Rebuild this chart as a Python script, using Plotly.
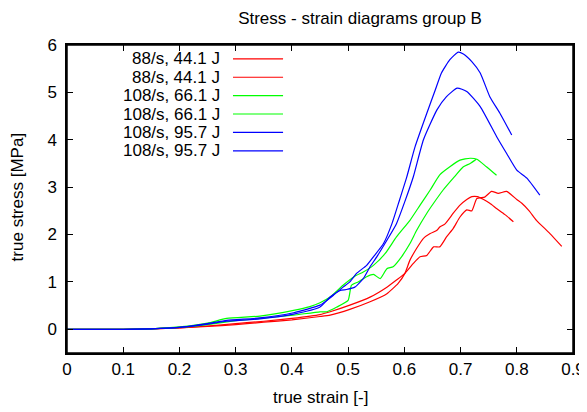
import plotly.graph_objects as go

# ---- data ----
names = ["88/s, 44.1 J", "88/s, 44.1 J", "108/s, 66.1 J", "108/s, 66.1 J",
         "108/s, 95.7 J", "108/s, 95.7 J"]
colors = ["#ff0000", "#ff0000", "#00ff00", "#00ff00", "#0000ff", "#0000ff"]

red_a_x = [0, 0.10, 0.15, 0.20, 0.25, 0.30, 0.35, 0.40, 0.45, 0.468, 0.503, 0.539,
           0.569, 0.589, 0.601, 0.610, 0.622, 0.634, 0.646, 0.658, 0.663, 0.672,
           0.687, 0.699, 0.711, 0.720, 0.730, 0.741, 0.752, 0.764, 0.779, 0.794]
red_a_y = [0, 0, 0.01, 0.03, 0.06, 0.10, 0.15, 0.20, 0.27, 0.30, 0.42, 0.58,
           0.75, 0.97, 1.18, 1.46, 1.71, 1.92, 2.02, 2.09, 2.16, 2.22,
           2.45, 2.62, 2.74, 2.80, 2.80, 2.74, 2.66, 2.55, 2.42, 2.27]

red_b_x = [0, 0.10, 0.15, 0.20, 0.25, 0.30, 0.35, 0.40, 0.45, 0.468, 0.503, 0.539,
           0.569, 0.586, 0.601, 0.616, 0.628, 0.640, 0.652, 0.663, 0.675, 0.687,
           0.699, 0.711, 0.720, 0.729, 0.743, 0.755, 0.767, 0.782, 0.800, 0.809,
           0.822, 0.835, 0.859, 0.880]
red_b_y = [0, 0, 0.01, 0.03, 0.07, 0.12, 0.17, 0.23, 0.31, 0.37, 0.51, 0.68,
           0.89, 1.04, 1.18, 1.39, 1.53, 1.56, 1.74, 1.74, 1.95, 2.13,
           2.37, 2.52, 2.50, 2.76, 2.79, 2.91, 2.87, 2.91, 2.74, 2.66,
           2.50, 2.30, 2.02, 1.75]

green_a_x = [0, 0.10, 0.15, 0.20, 0.25, 0.284, 0.343, 0.403, 0.432, 0.450, 0.468,
             0.491, 0.512, 0.527, 0.545, 0.566, 0.586, 0.610, 0.628, 0.646, 0.663,
             0.681, 0.699, 0.717, 0.729, 0.746, 0.764]
green_a_y = [0, 0, 0.01, 0.05, 0.13, 0.23, 0.28, 0.40, 0.48, 0.56, 0.68,
             0.93, 1.12, 1.21, 1.35, 1.60, 1.95, 2.30, 2.62, 2.94, 3.26,
             3.43, 3.57, 3.61, 3.59, 3.43, 3.25]

green_b_x = [0, 0.10, 0.15, 0.20, 0.25, 0.30, 0.343, 0.403, 0.45, 0.462, 0.480,
             0.500, 0.506, 0.518, 0.533, 0.545, 0.557, 0.569, 0.580, 0.595, 0.610,
             0.622, 0.640, 0.652, 0.669, 0.687, 0.705, 0.717, 0.728]
green_b_y = [0, 0, 0.01, 0.04, 0.10, 0.18, 0.23, 0.30, 0.37, 0.37, 0.47,
             0.61, 0.93, 1.00, 1.11, 1.16, 1.07, 1.28, 1.32, 1.53, 1.81,
             2.09, 2.45, 2.66, 2.94, 3.19, 3.43, 3.50, 3.59]

blue_a_x = [0, 0.10, 0.15, 0.20, 0.25, 0.284, 0.343, 0.403, 0.45, 0.462, 0.474,
            0.491, 0.503, 0.515, 0.533, 0.545, 0.563, 0.578, 0.592, 0.604, 0.619,
            0.640, 0.655, 0.666, 0.681, 0.696, 0.705, 0.720, 0.735, 0.752, 0.770,
            0.791]
blue_a_y = [0, 0, 0.01, 0.04, 0.12, 0.19, 0.24, 0.35, 0.51, 0.61, 0.72,
            0.89, 1.00, 1.18, 1.35, 1.53, 1.81, 2.23, 2.75, 3.20, 3.85,
            4.56, 5.05, 5.41, 5.69, 5.85, 5.81, 5.65, 5.41, 4.91, 4.56,
            4.10]

blue_b_x = [0, 0.10, 0.15, 0.20, 0.25, 0.284, 0.343, 0.403, 0.45, 0.468, 0.486,
            0.497, 0.512, 0.527, 0.539, 0.551, 0.569, 0.586, 0.601, 0.616, 0.634,
            0.658, 0.675, 0.694, 0.711, 0.735, 0.764, 0.782, 0.800, 0.818, 0.841]
blue_b_y = [0, 0, 0.01, 0.04, 0.11, 0.17, 0.22, 0.32, 0.47, 0.68, 0.82,
            0.84, 0.89, 1.07, 1.32, 1.53, 1.88, 2.23, 2.70, 3.22, 4.00,
            4.63, 4.91, 5.09, 5.02, 4.70, 4.07, 3.71, 3.36, 3.19, 2.83]

xs = [red_a_x, red_b_x, green_a_x, green_b_x, blue_a_x, blue_b_x]
ys = [red_a_y, red_b_y, green_a_y, green_b_y, blue_a_y, blue_b_y]

x_ticks = [0, 0.1, 0.2, 0.3, 0.4, 0.5, 0.6, 0.7, 0.8, 0.9]
x_tick_labels = ["0", "0.1", "0.2", "0.3", "0.4", "0.5", "0.6", "0.7", "0.8", "0.9"]
y_ticks = [0, 1, 2, 3, 4, 5, 6]
y_tick_labels = ["0", "1", "2", "3", "4", "5", "6"]

FONT = "Liberation Sans, Arial, sans-serif"
FS = 17

fig = go.Figure()
for x, y, n, c in zip(xs, ys, names, colors):
    fig.add_trace(go.Scatter(x=x, y=y, mode="lines", name=n,
                             line=dict(color=c, width=1.2, shape="spline", smoothing=0.5),
                             showlegend=False))

# gnuplot-style legend: text right-aligned, line sample on the right
leg_y0 = 0.955
leg_dy = 0.0597
for i, (n, c) in enumerate(zip(names, colors)):
    yy = leg_y0 - i * leg_dy
    fig.add_annotation(xref="paper", yref="paper", x=0.306, y=yy, text=n,
                       showarrow=False, xanchor="right", yanchor="middle",
                       font=dict(family=FONT, size=FS, color="black"))
    fig.add_shape(type="line", xref="paper", yref="paper",
                  x0=0.328, x1=0.427, y0=yy, y1=yy,
                  line=dict(color=c, width=1.2))

# axis titles
fig.add_annotation(xref="paper", yref="paper", x=0.5, y=-0.146, text="true strain [-]",
                   showarrow=False, xanchor="center", yanchor="middle",
                   font=dict(family=FONT, size=FS, color="black"))
fig.add_annotation(xref="paper", yref="paper", x=-0.097, y=0.505, text="true stress [MPa]",
                   showarrow=False, xanchor="center", yanchor="middle", textangle=-90,
                   font=dict(family=FONT, size=FS, color="black"))

# plot frame
fig.add_shape(type="rect", xref="paper", yref="paper", x0=0, x1=1, y0=0, y1=1,
              line=dict(color="black", width=1.5), layer="above")

axis_common = dict(showline=True, linecolor="black", linewidth=1.5, mirror="ticks",
                   ticks="inside", ticklen=6, tickcolor="black", tickwidth=1,
                   showgrid=False, zeroline=False, automargin=False,
                   tickfont=dict(family=FONT, size=FS, color="black"))

fig.update_xaxes(range=[0, 0.9], tickvals=x_ticks, ticktext=x_tick_labels, **axis_common)
fig.update_yaxes(range=[-0.5, 6], tickvals=y_ticks, ticktext=y_tick_labels,
                 ticklabelstandoff=5, **axis_common)

fig.update_layout(
    width=579, height=404,
    margin=dict(l=59, r=14, t=37, b=59),
    paper_bgcolor="white", plot_bgcolor="white",
    title=dict(text="Stress - strain diagrams group B", x=0.608, xanchor="center",
               y=0.975, yanchor="middle",
               font=dict(family=FONT, size=FS, color="black")),
    font=dict(family=FONT, size=FS, color="black"),
)

fig.write_html("out.html")
